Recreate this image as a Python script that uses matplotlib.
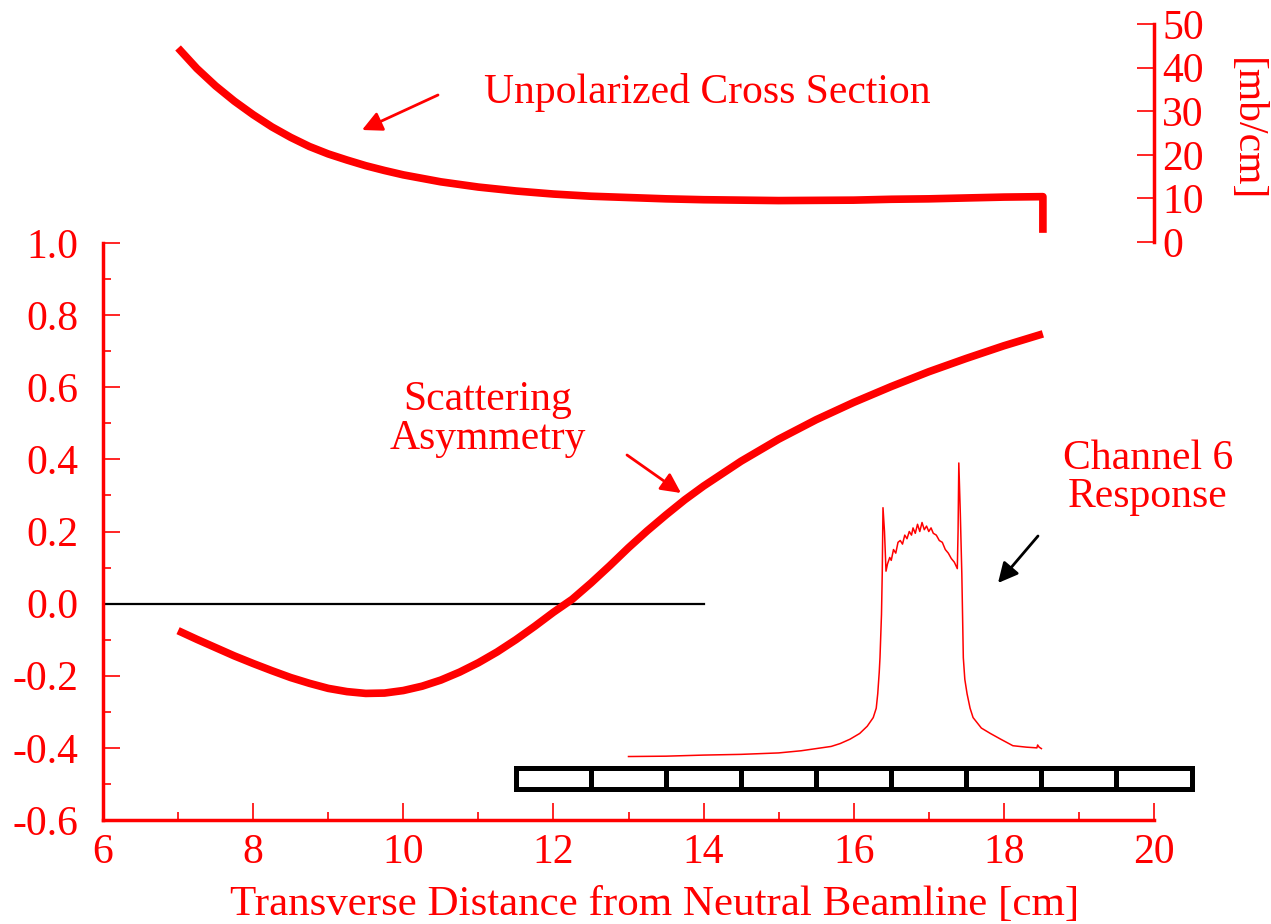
import matplotlib
matplotlib.use("Agg")
import matplotlib.pyplot as plt
from matplotlib.patches import Rectangle, FancyArrowPatch

plt.rcParams['font.family'] = ['Liberation Serif', 'DejaVu Serif']
plt.rcParams['axes.unicode_minus'] = False

RED = '#ff0000'

# ---- data ----
xs_cs = [7.0, 7.25, 7.5, 7.75, 8.0, 8.25, 8.5, 8.75, 9.0, 9.25, 9.5, 9.75, 10.0, 10.5, 11.0,
         11.5, 12.0, 12.5, 13.0, 13.5, 14.0, 14.5, 15.0, 15.5, 16.0, 16.5, 17.0, 17.5, 18.0,
         18.52, 18.52]
cross_section = [44.5, 39.8, 35.8, 32.3, 29.2, 26.4, 24.0, 21.9, 20.2, 18.8, 17.5, 16.4, 15.4, 13.8,
                 12.6, 11.7, 11.0, 10.5, 10.2, 9.9, 9.7, 9.6, 9.5, 9.55, 9.6, 9.8, 9.9, 10.1, 10.3,
                 10.4, 2.1]

xs_asym = [7.0, 7.25, 7.5, 7.75, 8.0, 8.25, 8.5, 8.75, 9.0, 9.25, 9.5, 9.75, 10.0, 10.25, 10.5,
           10.75, 11.0, 11.25, 11.5, 11.75, 12.0, 12.25, 12.5, 12.75, 13.0, 13.25, 13.5, 13.75,
           14.0, 14.5, 15.0, 15.5, 16.0, 16.5, 17.0, 17.5, 18.0, 18.52]
asymmetry = [-0.075, -0.099, -0.122, -0.145, -0.166, -0.186, -0.205, -0.221, -0.235, -0.244, -0.249,
             -0.248, -0.241, -0.229, -0.212, -0.19, -0.164, -0.134, -0.1, -0.063, -0.024, 0.012,
             0.057, 0.105, 0.155, 0.202, 0.246, 0.288, 0.326, 0.395, 0.456, 0.51, 0.558, 0.602,
             0.643, 0.68, 0.715, 0.748]

xs_resp = [13.00, 13.5, 14.0, 14.5, 15.0, 15.3, 15.5, 15.7, 15.82, 15.95, 16.08, 16.18, 16.26, 16.30,
           16.32, 16.34, 16.35, 16.37, 16.38, 16.39, 16.41, 16.43, 16.45, 16.48, 16.50, 16.53, 16.56,
           16.59, 16.62, 16.65, 16.68, 16.71, 16.74, 16.77, 16.79, 16.82, 16.85, 16.88, 16.91, 16.94,
           16.97, 17.00, 17.03, 17.06, 17.10, 17.14, 17.18, 17.22, 17.26, 17.30, 17.34, 17.38, 17.39,
           17.40, 17.42, 17.44, 17.46, 17.48, 17.51, 17.55, 17.59, 17.70, 17.82, 17.95, 18.12, 18.30,
           18.44, 18.45, 18.47, 18.50]
response = [-0.424, -0.423, -0.420, -0.418, -0.414, -0.408, -0.402, -0.396, -0.388, -0.376, -0.36, -0.34,
            -0.316, -0.29, -0.25, -0.19, -0.15, -0.03, 0.083, 0.266, 0.20, 0.09, 0.11, 0.128, 0.12, 0.15,
            0.14, 0.17, 0.175, 0.165, 0.19, 0.18, 0.20, 0.19, 0.21, 0.195, 0.22, 0.20, 0.225, 0.205, 0.215,
            0.20, 0.21, 0.195, 0.19, 0.175, 0.17, 0.15, 0.14, 0.125, 0.115, 0.097, 0.20, 0.39, 0.25, 0.083,
            -0.15, -0.21, -0.25, -0.29, -0.316, -0.345, -0.36, -0.375, -0.394, -0.398, -0.40, -0.392,
            -0.398, -0.402]

zero_line_x = [6.0, 14.0]
cell_edges = [11.5, 12.5, 13.5, 14.5, 15.5, 16.5, 17.5, 18.5, 19.5, 20.5]

y_ticks = [-0.6, -0.4, -0.2, 0.0, 0.2, 0.4, 0.6, 0.8, 1.0]
y_tick_labels = ['-0.6', '-0.4', '-0.2', '0.0', '0.2', '0.4', '0.6', '0.8', '1.0']
x_ticks = [6, 8, 10, 12, 14, 16, 18, 20]
cs_ticks = [0, 10, 20, 30, 40, 50]

FS = 30

W, H = 1271, 924
fig = plt.figure(figsize=(W / 100, H / 100), dpi=100)

def fx(px):
    return px / W

def fy(py):
    return 1 - py / H

# main axes
ax = fig.add_axes([fx(103), fy(820), fx(1154) - fx(103), fy(243) - fy(820)])
ax.set_xlim(6, 20)
ax.set_ylim(-0.6, 1.0)
for s in ['top', 'right']:
    ax.spines[s].set_visible(False)
for s in ['left', 'bottom']:
    ax.spines[s].set_color(RED)
    ax.spines[s].set_linewidth(2.5)
ax.set_yticks(y_ticks)
ax.set_yticklabels(y_tick_labels)
ax.set_yticks([v / 10 for v in range(-5, 10, 2)], minor=True)
ax.set_xticks(x_ticks)
ax.set_xticks([7, 9, 11, 13, 15, 17, 19], minor=True)
ax.tick_params(axis='both', which='major', direction='in', length=12, width=1.2,
               color=RED, labelcolor=RED, labelsize=FS)
ax.tick_params(axis='both', which='minor', direction='in', length=6, width=1.2, color=RED)
ax.tick_params(axis='y', which='major', pad=18)
ax.tick_params(axis='x', which='major', pad=10)
ax.set_xlabel('Transverse Distance from Neutral Beamline [cm]', color=RED, fontsize=31)
ax.xaxis.set_label_coords((655 - 103) / 1051, -(905 - 820) / 577, transform=ax.transAxes)
ax.xaxis.label.set_va('center')

ax.plot(zero_line_x, [0, 0], color='black', lw=1.6, zorder=2)
ax.plot(xs_asym, asymmetry, color=RED, lw=5.5, solid_capstyle='butt', zorder=3)
ax.plot(xs_resp, response, color=RED, lw=1.1, zorder=3)

# detector cells
for a, b in zip(cell_edges[:-1], cell_edges[1:]):
    ax.add_patch(Rectangle((a, -0.515), b - a, 0.06, fill=False, edgecolor='black',
                           lw=3.6, clip_on=False, zorder=4))

# top axes (cross section)
ax2 = fig.add_axes([fx(103), fy(242), fx(1154) - fx(103), fy(24) - fy(242)])
ax2.set_xlim(6, 20)
ax2.set_ylim(0, 50)
ax2.patch.set_alpha(0)
for s in ['top', 'left', 'bottom']:
    ax2.spines[s].set_visible(False)
ax2.spines['right'].set_color(RED)
ax2.spines['right'].set_linewidth(2.5)
ax2.set_xticks([])
ax2.yaxis.tick_right()
ax2.set_yticks(cs_ticks)
ax2.tick_params(axis='y', direction='in', length=12, width=1.2, color=RED,
                labelcolor=RED, labelsize=FS, pad=6)
ax2.plot(xs_cs, cross_section, color=RED, lw=5.5, solid_capstyle='butt', clip_on=False)

fig.text(fx(1246), fy(130), '[mb/cm]', rotation=270, color=RED, fontsize=FS,
         ha='center', va='center')

# annotations
fig.text(fx(707), fy(92), 'Unpolarized Cross Section', color=RED, fontsize=FS, ha='center', va='center')
fig.text(fx(488), fy(419), 'Scattering\nAsymmetry', color=RED, fontsize=FS, ha='center', va='center',
         linespacing=1.0)
fig.text(fx(1148), fy(478), 'Channel 6\nResponse', color=RED, fontsize=FS, ha='center', va='center',
         linespacing=1.0)

def arrow(x0, y0, x1, y1, color):
    fig.add_artist(FancyArrowPatch(
        (fx(x0), fy(y0)), (fx(x1), fy(y1)), transform=fig.transFigure,
        arrowstyle='-|>,head_length=12,head_width=6', color=color, lw=2,
        shrinkA=0, shrinkB=0))

arrow(438, 95, 362, 130, RED)
arrow(627, 455, 681, 493, RED)
arrow(1038, 536, 998, 583, 'black')

fig.savefig('out.png', dpi=100)
